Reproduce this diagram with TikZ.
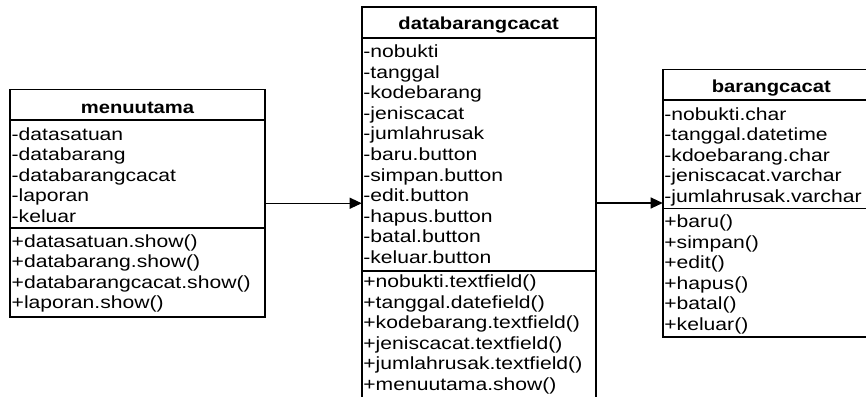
\documentclass[tikz,border=0pt]{standalone}
\usepackage{fontspec}
\usetikzlibrary{arrows.meta}
\newfontfamily\regfont{Liberation Sans}[FakeStretch=1.2]
\newfontfamily\hdrfont{Liberation Sans}[FakeStretch=1.16]
\tikzset{
  umlbox/.style={draw=black, line width=1.6pt, inner sep=0pt, outer sep=0pt, anchor=north west},
  sepline/.style={draw=black, line width=1.6pt},
  rowtext/.style={anchor=base west, inner sep=0pt, font=\regfont\fontsize{17.6}{20.5}\selectfont},
  hdrtext/.style={anchor=base, inner sep=0pt, font=\hdrfont\bfseries\fontsize{17.4}{20.5}\selectfont},
  assoc/.style={draw=black, line width=1.1pt, -{Triangle[length=12pt,width=11pt]}}
}
\begin{document}
\begin{tikzpicture}[x=1pt,y=-1pt]
\clip (0,0) rectangle (866,396);
\fill[white] (0,0) rectangle (866,396);

% ---------- left box: menuutama ----------
\node[umlbox, minimum width=255pt, minimum height=227.5pt] (L) at (10,89.5) {};
\draw[sepline] (L.west |- 0,120) -- (L.east |- 0,120);
\draw[sepline] (L.west |- 0,228) -- (L.east |- 0,228);
\node[hdrtext] (Lh) at (137.5,113) {menuutama};
\foreach \t [count=\i from 0] in {-datasatuan,-databarang,-databarangcacat,-laporan,-keluar}
  \node[rowtext] (La\i) at (11.5,{140.3+20.45*\i}) {\t};
\foreach \t [count=\i from 0] in {+datasatuan.show(),+databarang.show(),+databarangcacat.show(),+laporan.show()}
  \node[rowtext] (Lm\i) at (11.5,{247+20.5*\i}) {\t};

% ---------- middle box: databarangcacat ----------
\node[umlbox, minimum width=234pt, minimum height=393pt] (M) at (361.7,7.3) {};
\draw[sepline] (M.west |- 0,38) -- (M.east |- 0,38);
\draw[sepline] (M.west |- 0,270.7) -- (M.east |- 0,270.7);
\node[hdrtext] (Mh) at (478.7,29.5) {databarangcacat};
\foreach \t [count=\i from 0] in {-nobukti,-tanggal,-kodebarang,-jeniscacat,-jumlahrusak,-baru.button,-simpan.button,-edit.button,-hapus.button,-batal.button,-keluar.button}
  \node[rowtext] (Ma\i) at (363.2,{57.5+20.6*\i}) {\t};
\foreach \t [count=\i from 0] in {+nobukti.textfield(),+tanggal.datefield(),+kodebarang.textfield(),+jeniscacat.textfield(),+jumlahrusak.textfield(),+menuutama.show()}
  \node[rowtext] (Mm\i) at (363.2,{287.5+20.5*\i}) {\t};

% ---------- right box: barangcacat ----------
\node[umlbox, minimum width=217.3pt, minimum height=267.4pt] (R) at (662.7,69.3) {};
\draw[sepline] (R.west |- 0,100) -- (R.east |- 0,100);
\draw[sepline] (R.west |- 0,208.3) -- (R.east |- 0,208.3);
\node[hdrtext] (Rh) at (771.3,92) {barangcacat};
\foreach \t [count=\i from 0] in {-nobukti.char,-tanggal.datetime,-kdoebarang.char,-jeniscacat.varchar,-jumlahrusak.varchar}
  \node[rowtext] (Ra\i) at (664.2,{120.5+20.4*\i}) {\t};
\foreach \t [count=\i from 0] in {+baru(),+simpan(),+edit(),+hapus(),+batal(),+keluar()}
  \node[rowtext] (Rm\i) at (664.2,{227.8+20.5*\i}) {\t};

% ---------- connectors ----------
\draw[assoc] (L.east) -- (L.east -| M.west);
\draw[assoc] (R.west -| M.east) -- (R.west);
\end{tikzpicture}
\end{document}
